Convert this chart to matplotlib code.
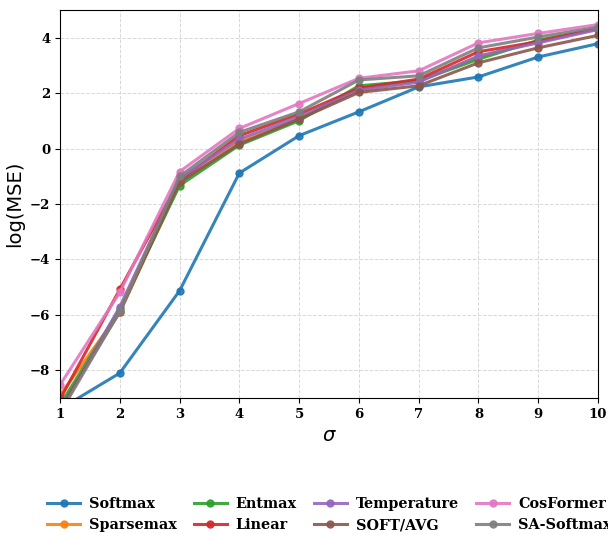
import matplotlib
matplotlib.use("Agg")
import matplotlib.pyplot as plt

## sigma values on the x axis
sigma = [1, 2, 3, 4, 5, 6, 7, 8, 9, 10]

## log(MSE) per method
softmax     = [-9.40, -8.10, -5.13, -0.88, 0.47, 1.33, 2.23, 2.59, 3.31, 3.79]
sparsemax   = [-8.90, -5.90, -1.25, 0.26, 1.05, 2.15, 2.45, 3.30, 3.90, 4.33]
entmax      = [-9.25, -5.80, -1.33, 0.13, 1.01, 2.27, 2.45, 3.23, 3.91, 4.34]
linear      = [-9.05, -5.08, -1.15, 0.47, 1.25, 2.18, 2.51, 3.50, 3.86, 4.35]
temperature = [-9.50, -5.71, -1.08, 0.35, 1.15, 2.11, 2.40, 3.35, 3.82, 4.30]
soft_avg    = [-9.40, -5.90, -1.21, 0.17, 1.07, 2.03, 2.27, 3.10, 3.64, 4.09]
cosformer   = [-8.53, -5.19, -0.83, 0.73, 1.63, 2.54, 2.81, 3.82, 4.16, 4.48]
sa_softmax  = [-9.55, -5.86, -1.00, 0.59, 1.33, 2.48, 2.63, 3.64, 4.03, 4.39]

names = ["Softmax", "Sparsemax", "Entmax", "Linear",
         "Temperature", "SOFT/AVG", "CosFormer", "SA-Softmax"]
series = [softmax, sparsemax, entmax, linear,
          temperature, soft_avg, cosformer, sa_softmax]
colors = ["#1f77b4", "#ff7f0e", "#2ca02c", "#d62728",
          "#9467bd", "#8c564b", "#e377c2", "#7f7f7f"]

fig = plt.figure(figsize=(6.08, 5.34), dpi=100)
ax = fig.add_axes([0.0987, 0.2547, 0.8849, 0.7263])

for name, vals, c in zip(names, series, colors):
    ax.plot(sigma, vals, color=c, marker="o", markersize=5, linewidth=2.2,
            alpha=0.9, label=name)

ax.set_xlim(1, 10)
ax.set_ylim(-9, 5)
ax.set_xticks(sigma)
ax.set_yticks([-8, -6, -4, -2, 0, 2, 4])
ax.grid(True, linestyle="--", color="#d8d8d8", linewidth=0.7)

# bold serif tick labels like the original
for lab in ax.get_xticklabels() + ax.get_yticklabels():
    lab.set_fontfamily("DejaVu Serif")
    lab.set_fontweight("bold")
    lab.set_fontsize(9.5)

ax.set_xlabel(r"$\sigma$", fontsize=14)
ax.set_ylabel("log(MSE)", fontsize=14)

# legend runs past the right edge in the original as well
fig.legend(loc="upper left", bbox_to_anchor=(0.0683, 0.0805), ncol=4,
           frameon=False, prop={"family": "DejaVu Serif", "weight": "bold", "size": 10.4},
           handlelength=2.26, columnspacing=1.2, handletextpad=0.62,
           labelspacing=0.5, borderaxespad=0)

fig.savefig("out.png", dpi=100)
